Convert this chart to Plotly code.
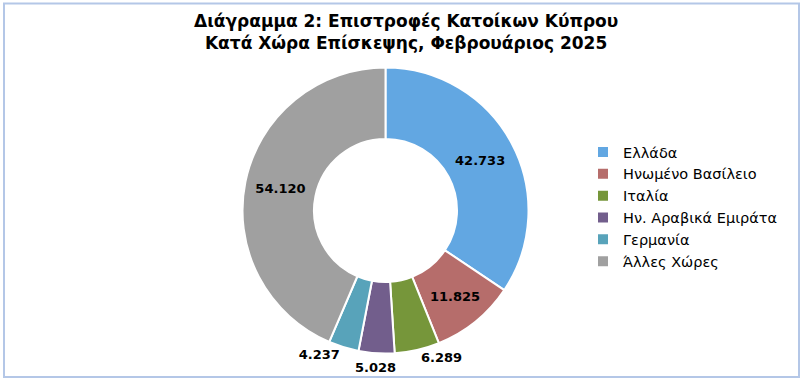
import math
import plotly.graph_objects as go

W, H = 803, 382

categories = ["Ελλάδα", "Ηνωμένο Βασίλειο", "Ιταλία", "Ην. Αραβικά Εμιράτα", "Γερμανία", "Άλλες Χώρες"]
values = [42733, 11825, 6289, 5028, 4237, 54120]
value_labels = ["42.733", "11.825", "6.289", "5.028", "4.237", "54.120"]
colors = ["#62A7E2", "#B66D6B", "#76963A", "#725E8C", "#58A3BA", "#A0A0A0"]
# "note" = label drawn as an annotation at the slice's mid-angle
text_positions = ["inside", "inside", "outside", "note", "outside", "inside"]

title_text = "Διάγραμμα 2: Επιστροφές Κατοίκων Κύπρου<br>Κατά Χώρα Επίσκεψης, Φεβρουάριος 2025"

cx, cy, r = 385.5, 210.5, 143
domain = dict(x=[(cx - r) / W, (cx + r) / W], y=[(H - cy - r) / H, (H - cy + r) / H])
label_font = dict(family="DejaVu Sans", size=13, color="#000000", weight="bold")

pie_text = [v if p != "note" else "" for v, p in zip(value_labels, text_positions)]
pie_pos = [p if p != "note" else "none" for p in text_positions]

fig = go.Figure()
fig.add_trace(go.Pie(
    labels=categories,
    values=values,
    text=pie_text,
    texttemplate="%{text}",
    textposition=pie_pos,
    insidetextorientation="horizontal",
    textfont=label_font,
    hole=0.5,
    sort=False,
    direction="clockwise",
    rotation=0,
    marker=dict(colors=colors, line=dict(color="#FFFFFF", width=2)),
    hoverinfo="skip",
    domain=domain,
))

annotations = [dict(
    text=title_text, showarrow=False,
    xref="paper", yref="paper",
    x=406 / W, xanchor="center",
    y=1 - 9 / H, yanchor="top",
    font=dict(family="DejaVu Sans", size=17, color="#000000", weight="bold"),
)]

# labels placed from the slice mid-angles (clockwise from 12 o'clock)
total = sum(values)
cum = 0.0
for v, lab, p in zip(values, value_labels, text_positions):
    mid = (cum + v / 2) / total * 2 * math.pi
    cum += v
    if p != "note":
        continue
    rr = r + 14
    px = cx + rr * math.sin(mid)
    py = cy - rr * math.cos(mid)
    annotations.append(dict(
        text=lab, showarrow=False, xref="paper", yref="paper",
        x=px / W, y=1 - py / H, xanchor="center", yanchor="middle",
        font=label_font,
    ))

fig.update_layout(
    width=W, height=H,
    margin=dict(l=0, r=0, t=0, b=0),
    paper_bgcolor="#FFFFFF",
    plot_bgcolor="#FFFFFF",
    annotations=annotations,
    legend=dict(
        x=583 / W, xanchor="left",
        y=1 - 136 / H, yanchor="top",
        font=dict(family="DejaVu Sans", size=14.5, color="#000000"),
        itemwidth=30,
        bgcolor="rgba(0,0,0,0)",
    ),
    shapes=[dict(
        type="rect", xref="paper", yref="paper",
        x0=4 / W, x1=799 / W, y0=1 - 377 / H, y1=1 - 3.5 / H,
        line=dict(color="#B4C7E7", width=2),
        fillcolor="rgba(0,0,0,0)",
    )],
)

fig.write_html("out.html")
